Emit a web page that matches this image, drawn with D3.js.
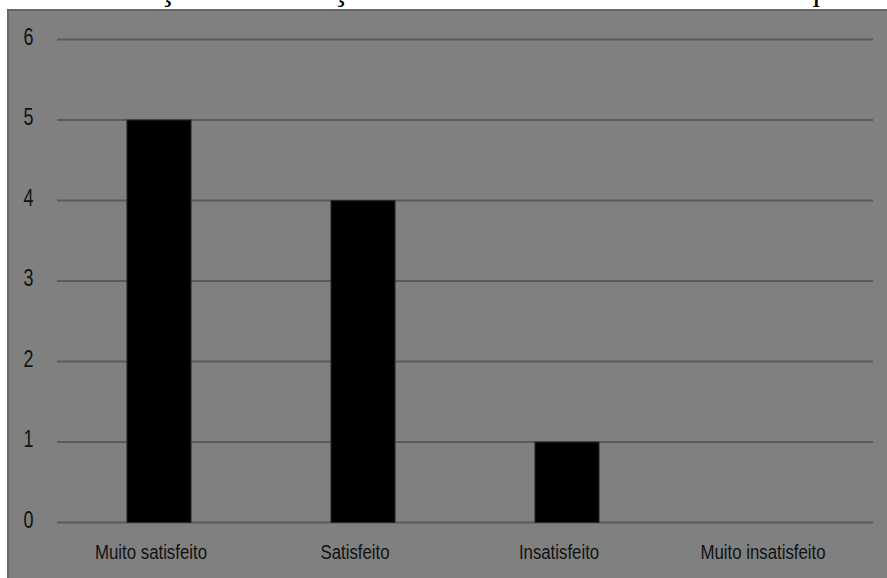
<!DOCTYPE html>
<html>
<head>
<meta charset="utf-8">
<script src="https://cdn.jsdelivr.net/npm/d3@7"></script>
<style>
  html, body { margin: 0; padding: 0; background: #ffffff; overflow: hidden; }
  svg { display: block; }
</style>
</head>
<body>
<svg id="chart" width="887" height="578"></svg>
<script>
// Satisfaction of residents with their houses (number of answers)
const categories = ["Muito satisfeito", "Satisfeito", "Insatisfeito", "Muito insatisfeito"];
const answers = [5, 4, 1, 0];
const yTicks = [0, 1, 2, 3, 4, 5, 6];
const caption = "Gráfico 5 – Avaliação da satisfação dos moradores com as casas em que residem";

const W = 887, H = 578;
const svg = d3.select("#chart");

// caption line above the chart frame; only its lowest strokes fall inside the page
const cap = svg.append("text")
  .attr("x", 0)
  .attr("y", 0)
  .attr("font-family", "'Liberation Serif', 'Times New Roman', serif")
  .attr("font-size", 20)
  .attr("fill", "#000")
  .text(caption);
{
  const node = cap.node();
  const i1 = caption.indexOf("ç");
  const iq = caption.indexOf("que");
  const mid = i => node.getStartPositionOfChar(i).x + node.getSubStringLength(i, 1) / 2;
  const size = 20 * (812 - 167) / (mid(iq) - mid(i1));
  cap.attr("font-size", size);
  cap.attr("x", 167 - mid(i1));
}

// chart frame
svg.append("rect")
  .attr("x", 8).attr("y", 10)
  .attr("width", W).attr("height", H)
  .attr("fill", "#808080")
  .attr("stroke", "#676767")
  .attr("stroke-width", 2);

const x = d3.scaleBand()
  .domain(categories)
  .range([57, 873])
  .paddingInner(0.686)
  .paddingOuter(0.343);

const y = d3.scaleLinear()
  .domain([0, 6])
  .range([522.5, 39.5]);

// horizontal grid lines
svg.append("g")
  .selectAll("line")
  .data(yTicks)
  .join("line")
  .attr("x1", 57).attr("x2", 873)
  .attr("y1", d => y(d)).attr("y2", d => y(d))
  .attr("stroke", "#5a5a5a")
  .attr("stroke-width", 2);

// y axis labels
svg.append("g")
  .selectAll("text")
  .data(yTicks)
  .join("text")
  .attr("transform", d => `translate(28.5,${y(d) + 5}) scale(0.78,1)`)
  .attr("text-anchor", "middle")
  .attr("font-family", "'Liberation Sans', Arial, sans-serif")
  .attr("font-size", 23)
  .attr("fill", "#111")
  .text(d => d);

// bars
svg.append("g")
  .selectAll("rect")
  .data(answers)
  .join("rect")
  .attr("x", (d, i) => x(categories[i]))
  .attr("y", d => y(d))
  .attr("width", x.bandwidth())
  .attr("height", d => y(0) - y(d))
  .attr("fill", "#000")
  .attr("stroke", "#2a2a2a")
  .attr("stroke-width", 1);

// category labels
svg.append("g")
  .selectAll("text")
  .data(categories)
  .join("text")
  .attr("transform", d => `translate(${x(d) + x.bandwidth() / 2 - 8},559) scale(0.8,1)`)
  .attr("text-anchor", "middle")
  .attr("font-family", "'Liberation Sans', Arial, sans-serif")
  .attr("font-size", 21)
  .attr("fill", "#111")
  .text(d => d);
</script>
</body>
</html>
